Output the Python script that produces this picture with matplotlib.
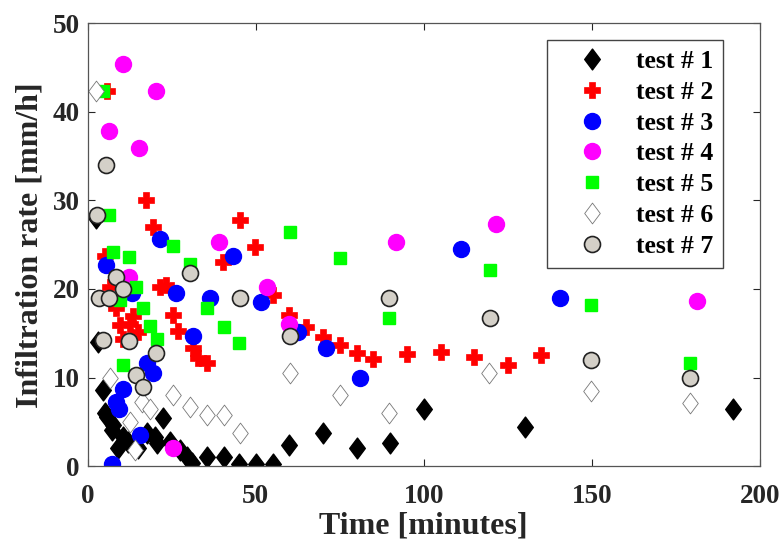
import numpy as np
import matplotlib
matplotlib.use("Agg")
import matplotlib.pyplot as plt
from matplotlib.path import Path

plt.rcParams['font.family'] = ['Liberation Serif', 'DejaVu Serif']
plt.rcParams['font.weight'] = 'bold'

# infiltration measurements, time in minutes / rate in mm/h
t1 = [2.5, 3, 4.6, 5.2, 5.8, 7.6, 7.3, 9, 10.6, 12, 15, 17.6, 20, 20.6, 22.4, 24.5,
      27.4, 29.5, 31, 35.5, 40.4, 45, 50, 55, 60, 70, 80, 90, 100, 130, 192]
r1 = [28, 14, 8.6, 6, 5.6, 4.6, 4.1, 2.1, 3.3, 2.7, 2.1, 3.7, 3.3, 2.6, 5.4, 2.7,
      1.8, 1.0, 0.4, 1.0, 1.0, 0.3, 0.3, 0.3, 2.4, 3.7, 2.1, 2.6, 6.5, 4.4, 6.5]

t2 = [5.8, 17.4, 19.4, 45.3, 49.7, 40.2, 21.5, 23.3, 25.4, 8.4, 13.5, 6.7, 5.2,
      9.7, 12.5, 15, 10.6, 26.9, 31.3, 32.8, 35.4, 55, 60, 65, 70, 75, 80, 85,
      95, 105, 115, 125, 135]
r2 = [42.4, 30, 27, 27.8, 24.7, 23, 20.2, 20.4, 17.1, 17.8, 17, 20.2, 23.7,
      15.9, 16.1, 15.1, 14.4, 15.3, 13.3, 12.2, 11.7, 19.3, 17.1, 15.7, 14.6,
      13.7, 12.8, 12.1, 12.7, 12.9, 12.3, 11.4, 12.6]

t3 = [21.5, 43.2, 5.5, 26.3, 36.4, 51.5, 13.2, 31.4, 17.6, 19.4, 10.6, 8.5, 9.4,
      15.6, 7.3, 111, 71, 81, 62.5, 140.5]
r3 = [25.6, 23.7, 22.7, 19.6, 19, 18.5, 19.5, 14.7, 11.7, 10.5, 8.7, 7.2, 6.4,
      3.5, 0.3, 24.5, 13.3, 9.9, 15.1, 19]

t4 = [10.6, 20.3, 6.4, 15.3, 39, 12.3, 25.4, 53.2, 91.8, 121.5, 60, 181.2]
r4 = [45.4, 42.4, 37.8, 35.9, 25.3, 21.3, 2.1, 20.2, 25.3, 27.3, 16.1, 18.7]

t5 = [4.6, 6.4, 7.6, 12.3, 25.4, 30.4, 14.4, 9.7, 16.5, 35.5, 18.6, 20.6, 10.6,
      40.4, 45, 60.1, 75, 119.8, 89.8, 149.8, 179.4]
r5 = [42.4, 28.3, 24.2, 23.6, 24.9, 22.8, 20.2, 18.8, 17.8, 17.8, 15.8, 14.3, 11.4,
      15.7, 13.9, 26.4, 23.5, 22.2, 16.7, 18.2, 11.6]

t6 = [2.5, 6.7, 16.2, 18.5, 12.6, 14.1, 25.4, 30.4, 35.5, 40.4, 45.3, 60.1, 75,
      89.8, 119.5, 149.8, 179.4]
r6 = [42.4, 9.9, 7.2, 6.5, 5, 1.8, 8, 6.7, 5.8, 5.8, 3.8, 10.5, 8, 6, 10.5, 8.5, 7.1]

t7 = [2.8, 5.5, 8.4, 10.6, 3.4, 6.4, 30.5, 45.3, 4.6, 12.3, 20.3, 14.4, 16.5,
      60.1, 89.8, 119.8, 149.8, 179.4]
r7 = [28.3, 34, 21.3, 20, 19, 19, 21.8, 19, 14.2, 14.1, 12.8, 10.3, 8.9,
      14.7, 19, 16.7, 12, 10]

labels = ['test # 1', 'test # 2', 'test # 3', 'test # 4', 'test # 5', 'test # 6', 'test # 7']

# taller-than-wide diamond
diamond = Path([(0, 1), (0.75, 0), (0, -1), (-0.75, 0), (0, 1)],
               [Path.MOVETO, Path.LINETO, Path.LINETO, Path.LINETO, Path.CLOSEPOLY])

fig = plt.figure(figsize=(7.84, 5.53), dpi=100)
ax = fig.add_axes([0.112, 0.157, 0.857, 0.801])

ax.plot(t1, r1, ls='none', marker=diamond, ms=15, mfc='black', mec='black', label=labels[0])
ax.plot(t2, r2, ls='none', marker='P', ms=11, mfc='red', mec='red', mew=0.5, label=labels[1])
ax.plot(t3, r3, ls='none', marker='o', ms=11.5, mfc='blue', mec='blue', label=labels[2])
ax.plot(t4, r4, ls='none', marker='o', ms=11.5, mfc='magenta', mec='magenta', label=labels[3])
ax.plot(t5, r5, ls='none', marker='s', ms=8.5, mfc='#00ff00', mec='#00ff00', label=labels[4])
ax.plot(t6, r6, ls='none', marker=diamond, ms=15, mfc='white', mec='#777777', mew=0.6, label=labels[5])
ax.plot(t7, r7, ls='none', marker='o', ms=11.5, mfc='#d4d0c8', mec='#222222', mew=1.2, label=labels[6])

ax.set_xlim(0, 200)
ax.set_ylim(0, 50)
ax.set_xticks([0, 50, 100, 150, 200])
ax.set_yticks([0, 10, 20, 30, 40, 50])
ax.tick_params(direction='in', top=True, right=True, length=5, width=0.8,
               labelsize=19.5, colors='#262626')
ax.tick_params(axis='x', pad=12.5)
ax.tick_params(axis='y', pad=6)
for lab in ax.get_xticklabels() + ax.get_yticklabels():
    lab.set_fontweight('bold')
for sp in ax.spines.values():
    sp.set_color('#555555')
    sp.set_linewidth(0.9)

ax.set_xlabel('Time [minutes]', fontsize=23, fontweight='bold', color='#262626', labelpad=2)
ax.set_ylabel('Infiltration rate [mm/h]', fontsize=23, fontweight='bold', color='#262626', labelpad=6)

leg = ax.legend(loc='upper right', bbox_to_anchor=(0.946, 0.962), frameon=True,
                fancybox=False, framealpha=1, edgecolor='#444444',
                prop={'size': 18.5, 'weight': 'bold'}, handletextpad=0.35,
                borderpad=0.4, labelspacing=0.3, handlelength=2.7, borderaxespad=0)
leg.get_frame().set_linewidth(1.0)

fig.savefig('out.png', dpi=100)
